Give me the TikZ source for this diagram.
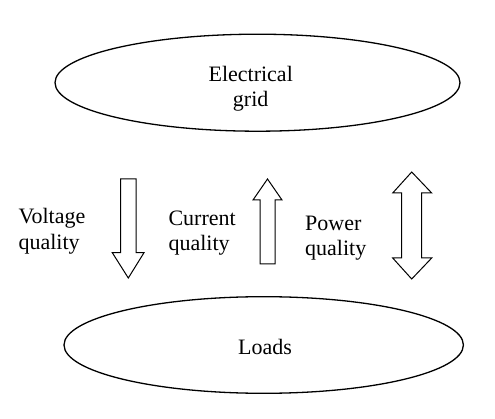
\documentclass[tikz,border=0pt]{standalone}
\usepackage{fontspec}
\setmainfont{Liberation Serif}
\begin{document}
\begin{tikzpicture}[x=1pt,y=-1pt,
  oval/.style={draw,line width=1.3pt},
  bigarrow/.style={draw,line width=1pt,line join=miter},
  lbl/.style={font=\fontsize{22}{26}\selectfont,inner sep=0pt}]
\useasboundingbox (0,0) rectangle (495,419);
% ellipses
\draw[oval] (257.5,82.7) ellipse [x radius=202.5, y radius=48.5];
\draw[oval] (263.7,345) ellipse [x radius=199.7, y radius=48.3];
\node[lbl,anchor=base] (e1) at (250.7,81.7) {Electrical};
\node[lbl,anchor=base] (e2) at (250.7,106.5) {grid};
\node[lbl,anchor=base] (ld) at (265,354) {Loads};
% down arrow
\draw[bigarrow] (120.7,179) -- (136,179) -- (136,252.7) -- (144,252.7) -- (128.3,278) -- (112.3,252.7) -- (120.7,252.7) -- cycle;
% up arrow
\draw[bigarrow] (260,264) -- (275,264) -- (275,200) -- (282,200) -- (267.5,179) -- (253,200) -- (260,200) -- cycle;
% double arrow
\draw[bigarrow] (411.7,172) -- (431.7,193) -- (421.7,193) -- (421.7,258) -- (431.7,258) -- (411.7,279) -- (392.7,258) -- (401.7,258) -- (401.7,193) -- (392.7,193) -- cycle;
% labels
\node[lbl,anchor=base west] (v1) at (18.3,223.3) {Voltage};
\node[lbl,anchor=base west] (v2) at (18.3,249.3) {quality};
\node[lbl,anchor=base west] (c1) at (168.3,225.7) {Current};
\node[lbl,anchor=base west] (c2) at (168.3,250.7) {quality};
\node[lbl,anchor=base west] (p1) at (305,230.7) {Power};
\node[lbl,anchor=base west] (p2) at (305,255.7) {quality};
\end{tikzpicture}
\end{document}
